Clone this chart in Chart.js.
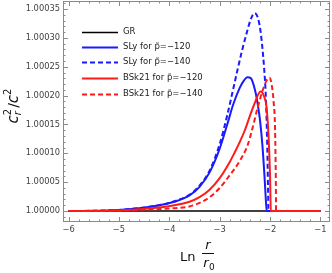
<!DOCTYPE html>
<html>
<head>
<meta charset="utf-8">
<script src="https://cdn.jsdelivr.net/npm/chart.js@4.4.1/dist/chart.umd.min.js"></script>
<style>
html,body{margin:0;padding:0;background:#fff;}
#wrap{width:332px;height:273px;position:relative;}
</style>
</head>
<body>
<div id="wrap"><canvas id="c" width="332" height="273"></canvas></div>
<script>
// ---- data ----
const seriesLabels = ["GR", "SLy for p\u0303=\u2212120", "SLy for p\u0303=\u2212140", "BSk21 for p\u0303=\u2212120", "BSk21 for p\u0303=\u2212140"];

const grX = [-6, -1];
const grY = [1.0, 1.0];

const sly120X = [-6, -5.5, -5, -4.6, -4.2, -3.9, -3.6, -3.4, -3.2, -3.0, -2.85, -2.73, -2.6, -2.52, -2.45, -2.38, -2.3, -2.25, -2.2, -2.15, -2.11, -2.08, -2.065, -1];
const sly120Y = [1.0, 1.0000005, 1.000002, 1.000005, 1.00001, 1.000016, 1.000027, 1.000042, 1.000067, 1.000108, 1.00015, 1.000185, 1.000214, 1.000226, 1.000232, 1.00023, 1.00021, 1.000188, 1.000158, 1.000112, 1.00006, 1.000015, 1.0, 1.0];

const sly140X = [-6, -5.5, -5, -4.6, -4.2, -3.9, -3.6, -3.4, -3.2, -3.0, -2.85, -2.73, -2.65, -2.55, -2.45, -2.38, -2.31, -2.25, -2.19, -2.12, -2.08, -2.055, -2.04, -2.03, -1];
const sly140Y = [1.0, 1.0000005, 1.000002, 1.000005, 1.00001, 1.000017, 1.000028, 1.000044, 1.00007, 1.000116, 1.000166, 1.000212, 1.000243, 1.00028, 1.000313, 1.000333, 1.000343, 1.000337, 1.000312, 1.00025, 1.00019, 1.00011, 1.00004, 1.0, 1.0];

const bsk120X = [-6, -5.5, -5, -4.6, -4.2, -3.9, -3.6, -3.4, -3.2, -3.0, -2.8, -2.7, -2.6, -2.5, -2.4, -2.3, -2.19, -2.12, -2.07, -2.03, -2.0, -1.985, -1];
const bsk120Y = [1.0, 1.0000002, 1.0000008, 1.000003, 1.000006, 1.00001, 1.000016, 1.000024, 1.000037, 1.000057, 1.000085, 1.000102, 1.00012, 1.00014, 1.000165, 1.000188, 1.000207, 1.000199, 1.00018, 1.00013, 1.00006, 1.0, 1.0];

const bsk140X = [-6, -5.5, -5, -4.6, -4.2, -3.9, -3.6, -3.4, -3.2, -3.0, -2.8, -2.6, -2.45, -2.35, -2.25, -2.15, -2.07, -2.01, -1.97, -1.93, -1.9, -1.885, -1.88, -1];
const bsk140Y = [1.0, 1.0000001, 1.0000005, 1.000002, 1.0000035, 1.000005, 1.000008, 1.000014, 1.000024, 1.00004, 1.000062, 1.000087, 1.000113, 1.000143, 1.000178, 1.000208, 1.000226, 1.000231, 1.00022, 1.00019, 1.00014, 1.00005, 1.0, 1.0];

const xTicks = [-6, -5, -4, -3, -2, -1];
const yTicks = [1.00000, 1.00005, 1.00010, 1.00015, 1.00020, 1.00025, 1.00030, 1.00035];

const colors = ["#000000", "#1a1aff", "#1a1aff", "#ff1a1a", "#ff1a1a"];
const dashes = [[], [], [5, 3], [], [5, 3]];

// ---- build ----
function pts(xs, ys) { return xs.map((x, i) => ({x: x, y: ys[i]})); }
const allX = [grX, sly120X, sly140X, bsk120X, bsk140X];
const allY = [grY, sly120Y, sly140Y, bsk120Y, bsk140Y];

Chart.defaults.font.family = "'DejaVu Sans', sans-serif";

const datasets = seriesLabels.map((lab, i) => ({
  label: lab,
  data: pts(allX[i], allY[i]),
  borderColor: colors[i],
  backgroundColor: colors[i],
  borderWidth: i === 0 ? 1.5 : 2,
  borderDash: dashes[i],
  pointRadius: 0,
  fill: false,
  cubicInterpolationMode: 'monotone',
  order: 5 - i
}));

const X_MIN = -6.11, X_MAX = -0.81, Y_MIN = 0.999981, Y_MAX = 1.000364;

const framePlugin = {
  id: 'frame',
  afterDatasetsDraw(chart) {
    const ctx = chart.ctx, a = chart.chartArea;
    const xs = chart.scales.x, ys = chart.scales.y;
    ctx.save();
    ctx.strokeStyle = '#8a8a8a';
    ctx.lineWidth = 1;
    ctx.strokeRect(a.left + 0.5, a.top + 0.5, a.right - a.left - 1, a.bottom - a.top - 1);
    ctx.beginPath();
    for (let k = 0; k <= 60; k++) {
      const vv = Math.round((-6.2 + k * 0.2) * 10) / 10;
      if (vv < X_MIN || vv > X_MAX) continue;
      const major = Math.abs(vv - Math.round(vv)) < 1e-6;
      const len = major ? 5 : 2.5;
      const px = Math.round(xs.getPixelForValue(vv)) + 0.5;
      ctx.moveTo(px, a.bottom); ctx.lineTo(px, a.bottom - len);
      ctx.moveTo(px, a.top); ctx.lineTo(px, a.top + len);
    }
    for (let k = -3; k <= 40; k++) {
      const v = 1 + k * 0.00001;
      if (v < Y_MIN || v > Y_MAX) continue;
      const major = (k % 5) === 0;
      const len = major ? 5 : 2.5;
      const py = Math.round(ys.getPixelForValue(v)) + 0.5;
      ctx.moveTo(a.left, py); ctx.lineTo(a.left + len, py);
      ctx.moveTo(a.right, py); ctx.lineTo(a.right - len, py);
    }
    ctx.stroke();

    // legend (inside plot, upper left)
    const lx0 = 82, lx1 = 118, tx = 123;
    const rows = [32, 47, 62, 78, 94];
    chart.data.datasets.forEach((ds, i) => {
      const y = rows[i] + 0.5;
      ctx.beginPath();
      ctx.strokeStyle = ds.borderColor;
      ctx.lineWidth = ds.borderWidth;
      ctx.setLineDash(ds.borderDash || []);
      ctx.moveTo(lx0, y); ctx.lineTo(lx1, y);
      ctx.stroke();
      ctx.setLineDash([]);
      ctx.fillStyle = '#222';
      ctx.font = "8.5px 'DejaVu Sans'";
      ctx.textBaseline = 'middle';
      ctx.textAlign = 'left';
      ctx.fillText(ds.label, tx, rows[i]);
    });

    // y title: c_r^2 / c^2 rotated
    ctx.save();
    ctx.translate(13, 106);
    ctx.rotate(-Math.PI / 2);
    ctx.fillStyle = '#111';
    ctx.textBaseline = 'alphabetic';
    ctx.textAlign = 'left';
    const cF = "italic 15px 'DejaVu Sans'", sF = "10px 'DejaVu Sans'", siF = "italic 10px 'DejaVu Sans'";
    const meas = (t, f) => { ctx.font = f; return ctx.measureText(t).width; };
    const wc = meas("c", cF), wr = meas("r", siF), w2 = meas("2", sF), ws = meas("/", "14px 'DejaVu Sans'");
    const total = wc + Math.max(wr, w2) + 1 + ws + wc + w2;
    let cx = -total / 2;
    ctx.font = cF; ctx.fillText("c", cx, 5); cx += wc;
    ctx.font = siF; ctx.fillText("r", cx, 8);
    ctx.font = sF; ctx.fillText("2", cx, -2); cx += Math.max(wr, w2) + 1;
    ctx.font = "14px 'DejaVu Sans'"; ctx.fillText("/", cx, 5); cx += ws;
    ctx.font = cF; ctx.fillText("c", cx, 5); cx += wc;
    ctx.font = sF; ctx.fillText("2", cx, -2);
    ctx.restore();

    // x title: Ln r/r0
    ctx.fillStyle = '#111';
    ctx.textBaseline = 'middle';
    ctx.textAlign = 'left';
    ctx.font = "13px 'DejaVu Sans'";
    ctx.fillText("Ln", 180, 258);
    ctx.font = "italic 13px 'DejaVu Sans'";
    ctx.textAlign = 'center';
    ctx.fillText("r", 208, 246);
    ctx.beginPath();
    ctx.strokeStyle = '#111';
    ctx.lineWidth = 1;
    ctx.moveTo(202, 253.5); ctx.lineTo(214, 253.5);
    ctx.stroke();
    ctx.fillText("r", 206, 264);
    ctx.font = "9px 'DejaVu Sans'";
    ctx.textAlign = 'left';
    ctx.fillText("0", 209, 268);
    ctx.restore();
  }
};

new Chart(document.getElementById('c'), {
  type: 'line',
  data: { datasets: datasets },
  options: {
    responsive: false,
    animation: false,
    layout: { padding: { left: 0, top: 1, right: 2, bottom: 0 } },
    plugins: { legend: { display: false }, tooltip: { enabled: false } },
    scales: {
      x: {
        type: 'linear', min: X_MIN, max: X_MAX,
        grid: { display: false, drawTicks: false },
        border: { display: false },
        afterBuildTicks: s => { s.ticks = xTicks.map(v => ({value: v})); },
        afterFit: s => { s.height = 51; s.paddingLeft = 0; s.paddingRight = 0; },
        ticks: { padding: 3, color: '#444', font: { size: 8.3 }, maxRotation: 0,
          callback: v => (v < 0 ? '\u2212' + Math.abs(v) : String(v)) }
      },
      y: {
        type: 'linear', min: Y_MIN, max: Y_MAX,
        grid: { display: false, drawTicks: false },
        border: { display: false },
        afterBuildTicks: s => { s.ticks = yTicks.map(v => ({value: v})); },
        afterFit: s => { s.width = 63; s.paddingTop = 0; s.paddingBottom = 0; },
        ticks: { padding: 3, color: '#444', font: { size: 8.3 },
          callback: v => Number(v).toFixed(5) }
      }
    }
  },
  plugins: [framePlugin]
});
</script>
</body>
</html>
